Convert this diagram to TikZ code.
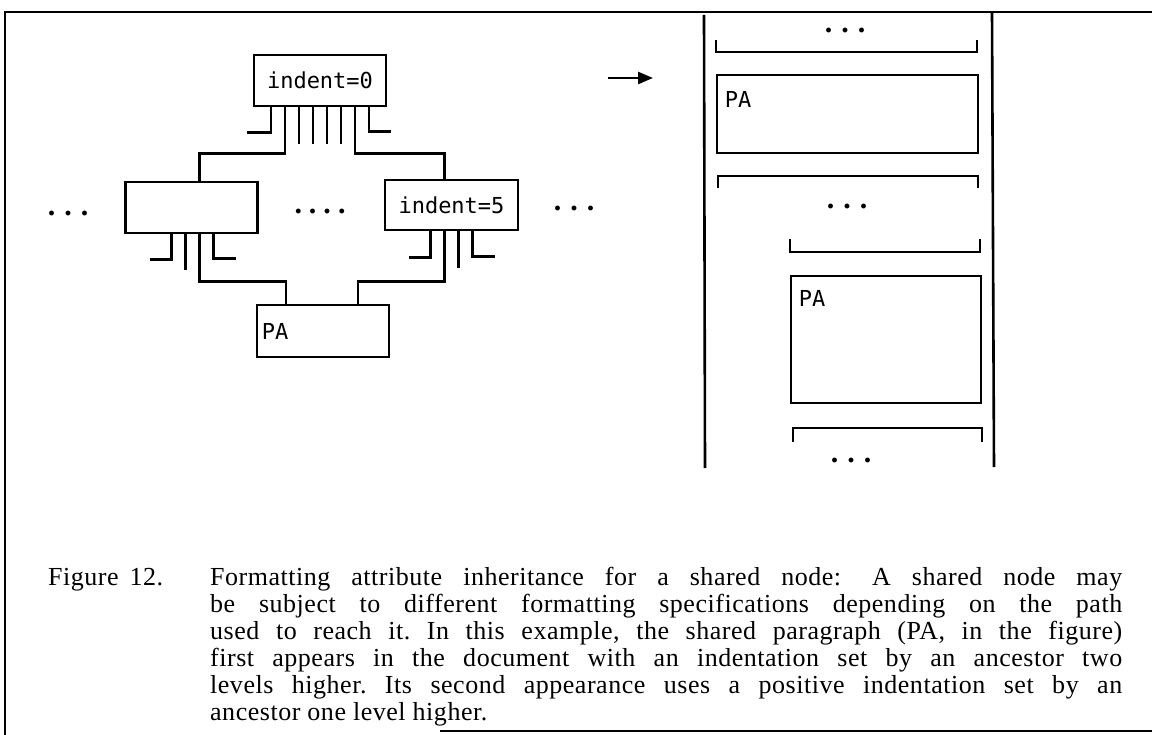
\documentclass[tikz,border=0pt]{standalone}
\usepackage{fontspec}
\setmainfont{Liberation Serif}
\newfontfamily\boxfont{DejaVu Sans Mono}
\newfontfamily\capfont[LetterSpace=2]{Liberation Serif}
\usetikzlibrary{arrows.meta,positioning}
\tikzset{
  box/.style={draw, line width=2.6pt, minimum width=132pt, minimum height=51pt,
    inner sep=0pt, font=\boxfont\fontsize{22}{24}\selectfont},
  lbl/.style={inner sep=0pt, font=\boxfont\fontsize{22}{24}\selectfont},
  wire/.style={line width=2.6pt},
  gapdots/.style={inner sep=0pt, font=\bfseries\fontsize{30}{30}\selectfont},
  frame/.style={line width=2pt}
}
\newcommand{\threedots}{.\hspace{9pt}.\hspace{9pt}.}
\newcommand{\fourdots}{.\hspace{7pt}.\hspace{7pt}.\hspace{7pt}.}

\begin{document}
\begin{tikzpicture}[x=1pt,y=-1pt]
		\useasboundingbox (0,0) rectangle (1152,735);
		\draw[frame] (1152,12) -- (5,12) -- (5,735);
		\draw[frame] (440,731) -- (1152,731);
		% shared structure
		\node[box] (top) at (320,80.5) {indent=0};
		\node[box] (lft) at (191.5,207.5) {};
		\node[box, minimum width=133pt, minimum height=50pt] (rgt) at (451.5,205) {indent=5};
		\node[box, minimum height=52pt] (pa) at (323,331) {};
		\node[lbl, anchor=west] (palbl) at ([xshift=6pt]pa.west) {PA};
		\node[gapdots] (dl) at (68,213) {\threedots};
		\node[gapdots] (dm) at (320,211) {\fourdots};
		\node[gapdots] (dr) at (574,208) {\threedots};
		%
		\draw[wire] ([xshift=-49pt]top.south) -- ++(0,25) -- ++(-24,0);
		\foreach \dx in {-21,-7,7,21}
			\draw[wire] ([xshift=\dx pt]top.south) -- ++(0,37);
		\draw[wire] ([xshift=49pt]top.south) -- ++(0,24) -- ++(22,0);
		\draw[wire] ([xshift=-35pt]top.south) |- ([xshift=8pt,yshift=27pt]lft.north) -- ([xshift=8pt]lft.north);
		\draw[wire] ([xshift=35pt]top.south) |- ([xshift=-7pt,yshift=25pt]rgt.north) -- ([xshift=-7pt]rgt.north);
		%
		\draw[wire] ([xshift=-20pt]lft.south) -- ++(0,25) -- ++(-22,0);
		\draw[wire] ([xshift=-6pt]lft.south) -- ++(0,36);
		\draw[wire] ([xshift=8pt]lft.south) |- ([xshift=-37pt,yshift=22pt]pa.north) -- ([xshift=-37pt]pa.north);
		\draw[wire] ([xshift=22pt]lft.south) -- ++(0,24) -- ++(22,0);
		%
		\draw[wire] ([xshift=-21pt]rgt.south) -- ++(0,26) -- ++(-22,0);
		\draw[wire] ([xshift=-7pt]rgt.south) |- ([xshift=35pt,yshift=22pt]pa.north) -- ([xshift=35pt]pa.north);
		\draw[wire] ([xshift=7pt]rgt.south) -- ++(0,37);
		\draw[wire] ([xshift=21pt]rgt.south) -- ++(0,25) -- ++(22,0);
		%
		\coordinate (arrs) at (608,78);
		\coordinate (arre) at (653,78);
		\draw[wire, -{Triangle[length=15pt,width=12pt]}] (arrs) -- (arre);
		% document view
		\draw[wire] (704,15) -- (705,468);
		\draw[wire] (992,13) -- (994,467);
		\node[gapdots] (d1) at (845,30) {\threedots};
		\draw[wire] (716,40) |- (977,52) -- (977,40);
		\node[box, minimum width=261pt, minimum height=78pt] (pa1) at (847.5,114) {};
		\node[lbl, anchor=north west] (pa1lbl) at ([xshift=9pt,yshift=-18pt]pa1.north west) {PA};
		\draw[wire] (718,188) |- (978,176) -- (978,188);
		\node[gapdots] (d2) at (847,206) {\threedots};
		\draw[wire] (790,239) |- (980,252) -- (980,239);
		\node[box, minimum width=190pt, minimum height=127pt] (pa2) at (886,339.5) {};
		\node[lbl, anchor=north west] (pa2lbl) at ([xshift=9pt,yshift=-16pt]pa2.north west) {PA};
		\draw[wire] (793,442) |- (982,428) -- (982,442);
		\node[gapdots] (d3) at (851,460) {\threedots};
		% caption
		\node[anchor=base west, inner sep=0pt, font=\capfont\fontsize{26}{27}\selectfont] (fig) at (48,585) {Figure\hspace{4pt} 12.};
		\node[anchor=base west, inner sep=0pt, text width=912pt, align=justify,
			font=\capfont\fontsize{26}{27}\selectfont\frenchspacing] (cap) at (210,585)
			{Formatting attribute inheritance for a shared node:\hspace{10pt} A shared node may\linebreak
			be subject to different formatting specifications depending on the path\linebreak
			used to reach it. In this example, the shared paragraph (PA, in the figure)\linebreak
			first appears in the document with an indentation set by an ancestor two\linebreak
			levels higher. Its second appearance uses a positive indentation set by an\linebreak
			ancestor one level higher.};
\end{tikzpicture}
\end{document}
